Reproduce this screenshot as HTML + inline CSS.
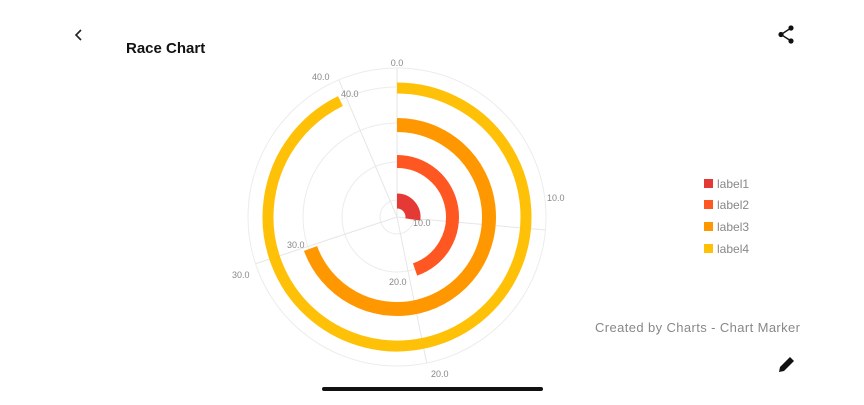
<!DOCTYPE html>
<html><head><meta charset="utf-8"><style>
body{margin:0;background:#fff;width:864px;height:400px;overflow:hidden;font-family:"Liberation Sans",sans-serif}
</style></head><body>
<svg id="s" width="864" height="400" xmlns="http://www.w3.org/2000/svg" font-family="Liberation Sans, sans-serif">
<rect width="864" height="400" fill="#fff"/>
<g fill="none" stroke="#ececec" stroke-width="1">
<circle cx="397" cy="217" r="17"/><circle cx="397" cy="217" r="55"/><circle cx="397" cy="217" r="94"/><circle cx="397" cy="217" r="130"/><circle cx="397" cy="217" r="149"/>
</g>
<g id="rad" stroke="#e6e6e6" stroke-width="1"></g>
<g id="arcs" fill="none"></g>
<g font-size="9" fill="#888">
<text x="397" y="66" text-anchor="middle">0.0</text>
<text x="547" y="201">10.0</text>
<text x="431" y="377">20.0</text>
<text x="232" y="278">30.0</text>
<text x="312" y="80">40.0</text>
<text x="413" y="226">10.0</text>
<text x="389" y="285">20.0</text>
<text x="287" y="248">30.0</text>
<text x="341" y="97">40.0</text>
</g>
<text x="126" y="53" font-size="15" font-weight="bold" fill="#111">Race Chart</text>
<path d="M81 30 L76 35 L81 40" stroke="#222" stroke-width="1.6" fill="none"/>
<g fill="#111"><circle cx="791" cy="28" r="2.6"/><circle cx="791" cy="41" r="2.6"/><circle cx="781" cy="34.5" r="2.6"/></g>
<path d="M791 28 L781 34.5 L791 41" stroke="#111" stroke-width="1.4" fill="none"/>
<path d="M779 372 L780 367 L790 357 L794 361 L784 371 Z" fill="#111"/>
<rect x="322" y="387" width="221" height="4" rx="2" fill="#111"/>
<g font-size="12" fill="#888">
<rect x="704" y="179" width="9" height="9" fill="#e53935"/><text x="717" y="188">label1</text>
<rect x="704" y="200" width="9" height="9" fill="#ff5722"/><text x="717" y="209">label2</text>
<rect x="704" y="222" width="9" height="9" fill="#ff9800"/><text x="717" y="231">label3</text>
<rect x="704" y="244" width="9" height="9" fill="#ffc107"/><text x="717" y="253">label4</text>
<text x="595" y="332" font-size="13" textLength="205">Created by Charts - Chart Marker</text>
</g>
</svg>
<script>
var cx=397,cy=217,NS="http://www.w3.org/2000/svg";
function p(r,a){a=a*Math.PI/180;return [cx+r*Math.sin(a),cy-r*Math.cos(a)];}
var rad=document.getElementById("rad");
[0,95,168.5,251.7,337].forEach(function(a){var q=p(149,a);var l=document.createElementNS(NS,"line");l.setAttribute("x1",cx);l.setAttribute("y1",cy);l.setAttribute("x2",q[0]);l.setAttribute("y2",q[1]);rad.appendChild(l);});
var arcs=document.getElementById("arcs");
[[16,15,99,"#e53935"],[55.5,13,161,"#ff5722"],[92,14,250,"#ff9800"],[129,11,334,"#ffc107"]].forEach(function(d){
var s=p(d[0],0),e=p(d[0],d[2]);var big=d[2]>180?1:0;
var pa=document.createElementNS(NS,"path");
pa.setAttribute("d","M"+s[0]+" "+s[1]+" A"+d[0]+" "+d[0]+" 0 "+big+" 1 "+e[0]+" "+e[1]);
pa.setAttribute("stroke",d[3]);pa.setAttribute("stroke-width",d[1]);arcs.appendChild(pa);});
</script>
</body></html>
